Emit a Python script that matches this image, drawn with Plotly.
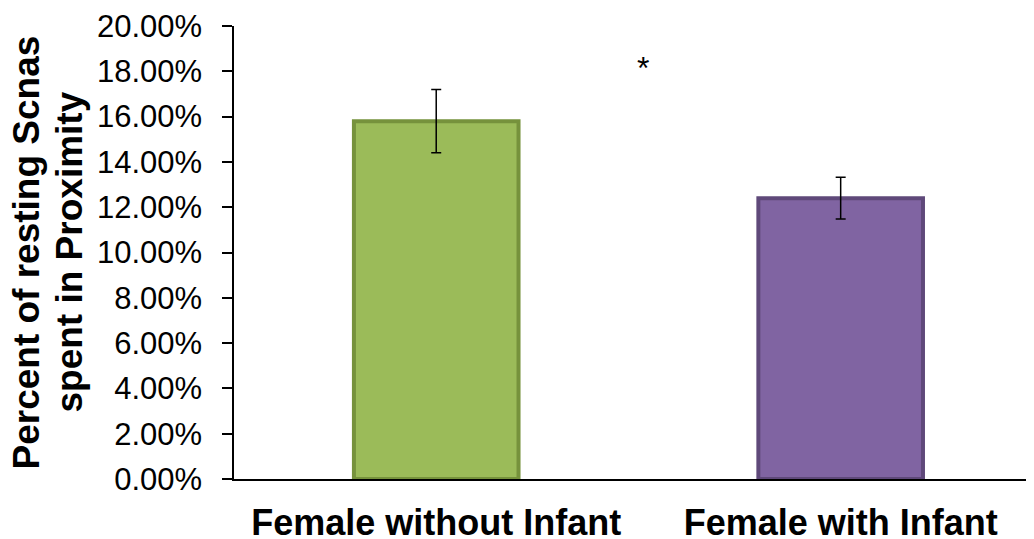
import plotly.graph_objects as go

categories = ["Female without Infant", "Female with Infant"]
values = [0.158, 0.124]
errors = [0.014, 0.0092]
fill_colors = ["#9BBB59", "#8064A2"]
line_colors = ["#76923C", "#5F497A"]
tick_vals = [0, 0.02, 0.04, 0.06, 0.08, 0.10, 0.12, 0.14, 0.16, 0.18, 0.20]
title_lines = ["Percent of resting Scnas", "spent in Proximity"]
sig_x = 0.512
sig_y = 0.1815

# page body adds an 8px offset; compensate in margins
W, H = 1034, 539
ml, mr, mt, mb = 226, 8, 18, 68

fig = go.Figure()
fig.add_trace(go.Bar(
    x=[0, 1], y=values, width=0.407,
    marker=dict(color=fill_colors, line=dict(color=line_colors, width=4)),
    error_y=dict(type="data", array=errors, visible=True, color="black",
                 thickness=1.5, width=5),
))

fig.add_annotation(x=sig_x, y=sig_y, xref="x", yref="y", text="*",
                   showarrow=False, font=dict(family="Liberation Sans", size=32, color="black"))

for line, px in zip(title_lines, [18, 61]):
    fig.add_annotation(
        x=(px - ml) / (W - ml - mr), y=0.5, xref="paper", yref="paper",
        xanchor="center", yanchor="middle", textangle=-90, showarrow=False,
        text="<b>" + line + "</b>",
        font=dict(family="Liberation Sans", size=37, color="black"))

fig.update_layout(
    width=W, height=H, margin=dict(l=ml, r=mr, t=mt, b=mb, pad=0, autoexpand=False),
    paper_bgcolor="white", plot_bgcolor="white", showlegend=False,
    xaxis=dict(range=[-0.5, 1.478], tickvals=[0, 1], ticktext=categories,
               showline=True, linecolor="black", linewidth=1.5, ticks="",
               showgrid=False, zeroline=False, automargin=False,
               tickfont=dict(family="Liberation Sans", size=36, color="black", weight="bold"),
               ticklabelstandoff=11),
    yaxis=dict(range=[0, 0.20], tickvals=tick_vals, tickformat=".2%",
               showline=True, linecolor="black", linewidth=1.5, ticks="outside",
               ticklen=10, tickwidth=1.5, tickcolor="black",
               showgrid=False, zeroline=False, automargin=False,
               tickfont=dict(family="Liberation Sans", size=31, color="black"),
               ticklabelstandoff=14),
)

fig.write_html("out.html")
